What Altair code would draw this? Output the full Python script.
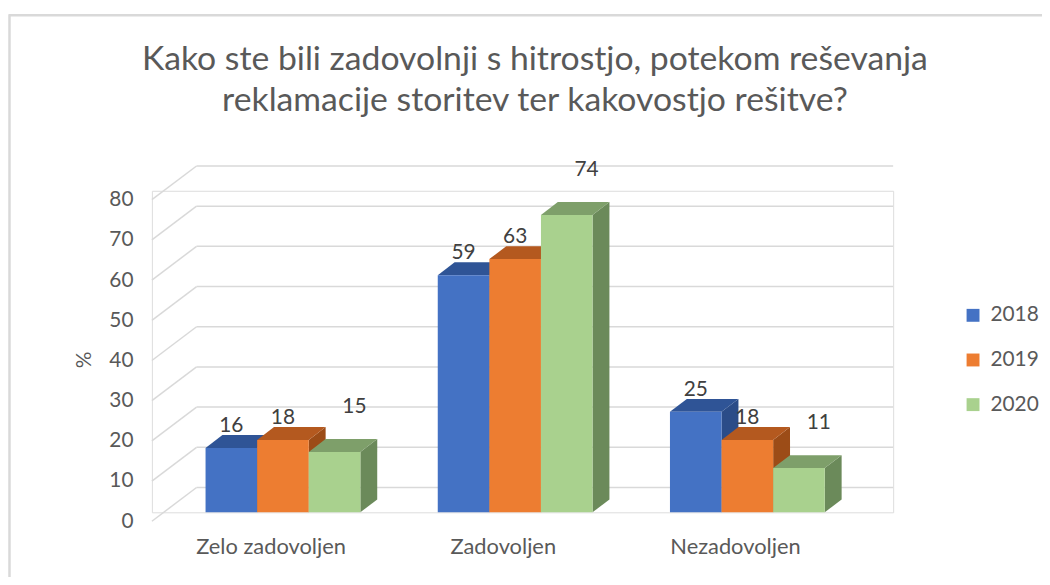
import altair as alt
import pandas as pd

# ---------------- data ----------------
categories = ["Zelo zadovoljen", "Zadovoljen", "Nezadovoljen"]
years = ["2018", "2019", "2020"]
values_2018 = [16, 59, 25]
values_2019 = [18, 63, 18]
values_2020 = [15, 74, 11]
y_ticks = [0, 10, 20, 30, 40, 50, 60, 70, 80]
title_lines = [
    "Kako ste bili zadovolnji s hitrostjo, potekom reševanja",
    "reklamacije storitev ter kakovostjo rešitve?",
]

# ---------------- style ----------------
FONT = "Lato"
GREY = "#595959"
DARK = "#404040"
GRID = "#D9D9D9"
front_colors = ["#4472C4", "#ED7D31", "#A9D18E"]
top_colors = ["#2F5496", "#B4591F", "#7E9F6A"]
side_colors = ["#2B4C88", "#9C4C17", "#6B8A5A"]

W, H = 747, 324             # plot area (px)
PX_X = 52.0                 # px per bar width
Y_MAX = 80
PX_Y = H / Y_MAX
DEPTH_X = 17 / PX_X         # 3D depth, in bar widths
DEPTH_Y = 13 / PX_Y         # 3D depth, in value units
GROUP_STEP = 4.5
FIRST = 1.04
BACK = 45                   # back-wall offset (px)

series = {"2018": values_2018, "2019": values_2019, "2020": values_2020}

bars, tops, sides = [], [], []
for i, cat in enumerate(categories):
    for j, yr in enumerate(years):
        v = series[yr][i]
        x0 = FIRST + i * GROUP_STEP + j
        x1 = x0 + 1
        bid = f"{i}-{j}"
        bars.append(dict(cat=cat, year=yr, v=v, x0=x0, x1=x1, xc=(x0 + x1) / 2, zero=0, bar=bid))
        tops.append(dict(year=yr, bar=bid, yy=v, xa=x0, xb=x1))
        tops.append(dict(year=yr, bar=bid, yy=v + DEPTH_Y, xa=x0 + DEPTH_X, xb=x1 + DEPTH_X))
        sides.append(dict(year=yr, bar=bid, xx=x1, ya=0, yb=v))
        sides.append(dict(year=yr, bar=bid, xx=x1 + DEPTH_X, ya=DEPTH_Y, yb=v + DEPTH_Y))

df_bars = pd.DataFrame(bars)
df_tops = pd.DataFrame(tops)
df_sides = pd.DataFrame(sides)
df_ticks = pd.DataFrame({"t": y_ticks})
df_cats = pd.DataFrame({
    "cat": categories,
    "xc": [FIRST + i * GROUP_STEP + 1.5 for i in range(len(categories))],
    "zero": [0] * len(categories),
})
df_title = pd.DataFrame({"line": title_lines, "row": list(range(len(title_lines)))})

xsc = alt.Scale(domain=[0, W / PX_X], nice=False, zero=True)
ysc = alt.Scale(domain=[0, Y_MAX], nice=False, zero=True)
yaxis = alt.Axis(
    values=y_ticks, title="%", grid=False, domain=False, ticks=False, tickSize=0,
    labelPadding=19, labelOffset=9, labelFontSize=21, labelFont=FONT, labelColor=GREY,
    titleFontSize=21, titleFont=FONT, titleColor=GREY, titleFontWeight="normal",
    titlePadding=14, titleY=170,
)


def Y(field):
    return alt.Y(field, scale=ysc, axis=yaxis, stack=None)


def X(field):
    return alt.X(field, scale=xsc, axis=None, stack=None)


# grid: slanted floor/wall lines + back wall lines
grid_slant = alt.Chart(df_ticks).mark_rule(
    color=GRID, strokeWidth=1.5, yOffset=9, y2Offset=-25
).encode(y=Y("t:Q"), y2="t:Q", x=alt.value(0), x2=alt.value(BACK))

grid_back = alt.Chart(df_ticks).mark_rule(
    color=GRID, strokeWidth=1.5, yOffset=-25
).encode(y=Y("t:Q"), x=alt.value(BACK), x2=alt.value(W))

side_layer = alt.Chart(df_sides).mark_area(orient="vertical", strokeWidth=0).encode(
    x=X("xx:Q"), y=Y("yb:Q"), y2="ya:Q", detail="bar:N",
    color=alt.Color("year:N", scale=alt.Scale(domain=years, range=side_colors), legend=None),
)

top_layer = alt.Chart(df_tops).mark_area(orient="horizontal", strokeWidth=0).encode(
    y=Y("yy:Q"), x=X("xa:Q"), x2="xb:Q", detail="bar:N",
    color=alt.Color("year:N", scale=alt.Scale(domain=years, range=top_colors), legend=None),
)

front_layer = alt.Chart(df_bars).mark_bar(strokeWidth=0).encode(
    x=X("x0:Q"), x2="x1:Q", y=Y("v:Q"), y2="zero:Q",
    color=alt.Color(
        "year:N",
        scale=alt.Scale(domain=years, range=front_colors),
        legend=alt.Legend(
            title=None, orient="none", legendX=817, legendY=115, padding=0,
            symbolType="square", symbolSize=169, symbolStrokeWidth=0,
            labelFontSize=21, labelFont=FONT, labelColor=GREY, labelOffset=7,
            rowPadding=23,
        ),
    ),
)

labels_a = alt.Chart(df_bars).transform_filter(
    alt.datum.year != "2020"
).mark_text(font=FONT, fontSize=21, color=DARK, baseline="alphabetic", dy=-16).encode(
    x=X("xc:Q"), y=Y("v:Q"), text="v:Q"
)

labels_b = alt.Chart(df_bars).transform_filter(
    alt.datum.year == "2020"
).mark_text(font=FONT, fontSize=21, color=DARK, baseline="alphabetic", dx=20, dy=-39).encode(
    x=X("xc:Q"), y=Y("v:Q"), text="v:Q"
)

cat_labels = alt.Chart(df_cats).mark_text(
    font=FONT, fontSize=22, color=GREY, baseline="alphabetic", dx=-12, dy=42
).encode(x=X("xc:Q"), y=Y("zero:Q"), text="cat:N")

# chart title (two centred lines above the plot)
title_layer = alt.Chart(df_title).mark_text(
    font=FONT, fontSize=34, color=GREY, baseline="alphabetic", align="center"
).encode(
    x=alt.value(386),
    y=alt.Y("row:Q", scale=alt.Scale(domain=[0, 1], range=[-122, -80]), axis=None),
    text="line:N",
)

# light frame of the chart area (top and left edges)
frame_top = alt.Chart(df_cats.head(1)).mark_rule(color=GRID, strokeWidth=2.5).encode(
    x=alt.value(-144), x2=alt.value(W + 160), y=alt.value(-177)
)
frame_left = alt.Chart(df_cats.head(1)).mark_rule(color=GRID, strokeWidth=2.5).encode(
    x=alt.value(-143.5), y=alt.value(-178), y2=alt.value(H + 80)
)

chart = alt.layer(
    grid_slant, grid_back, side_layer, top_layer, front_layer,
    labels_a, labels_b, cat_labels, frame_top, frame_left,
).resolve_scale(color="independent")

chart = alt.layer(chart, title_layer).resolve_scale(y="independent").properties(
    width=W, height=H,
    autosize=alt.AutoSizeParams(type="none"),
    padding={"left": 145, "top": 182, "right": 150, "bottom": 63},
).configure_view(strokeWidth=0).configure(background="white")

chart.save("out.html", embed_options={"renderer": "svg", "actions": False})
